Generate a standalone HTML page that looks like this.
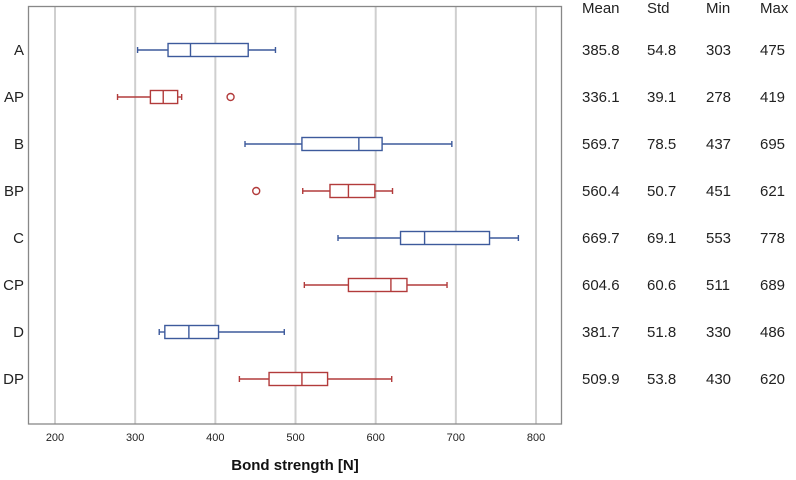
<!DOCTYPE html>
<html><head><meta charset="utf-8"><style>
body{margin:0;background:#fff;width:796px;height:475px;overflow:hidden;font-family:"Liberation Sans",sans-serif}
</style></head><body>
<svg id="chart" width="796" height="475" xmlns="http://www.w3.org/2000/svg"></svg>
<script>
const categories=["A","AP","B","BP","C","CP","D","DP"];
const whiskerLow=[303,278,437,509,553,511,330,430];
const q1=[341,319,508,543,631,566,337,467];
const median=[369,335,579,566,661,619,367,508];
const q3=[441,353,608,599,742,639,404,540];
const whiskerHigh=[475,358,695,621,778,689,486,620];
const outliers=[[],[419],[],[451],[],[],[],[]];
const means=["385.8","336.1","569.7","560.4","669.7","604.6","381.7","509.9"];
const stds=["54.8","39.1","78.5","50.7","69.1","60.6","51.8","53.8"];
const mins=["303","278","437","451","553","511","330","430"];
const maxs=["475","419","695","621","778","689","486","620"];
const xTicks=[200,300,400,500,600,700,800];
const headers=["Mean","Std","Min","Max"];

const svg=document.getElementById('chart');
const NS='http://www.w3.org/2000/svg';
const x=v=>55+(v-200)*0.8017;
const y=i=>50+i*47;
function mk(tag,attrs,parent){const e=document.createElementNS(NS,tag);for(const k in attrs)e.setAttribute(k,attrs[k]);(parent||svg).appendChild(e);return e;}
xTicks.forEach(t=>{
  const g=mk('line',{x1:x(t),x2:x(t),y1:6,y2:424,stroke:'#cfcfcf','stroke-width':2});
  
  
  const tl=mk('text',{x:x(t),y:441,'text-anchor':'middle','font-size':11,fill:'#222'});
  tl.textContent=t;
  
  
});
const frame=mk('rect',{x:28.5,y:6.5,width:533,height:417.5,fill:'none',stroke:'#888','stroke-width':1.3});


const title=mk('text',{x:295,y:470,'text-anchor':'middle','font-size':15,'font-weight':'bold',fill:'#111'});
title.textContent='Bond strength [N]';


categories.forEach((c,i)=>{
  const col=c.endsWith('P')?'#b23b3b':'#3d5a9c';
  const cy=y(i);
  const g=mk('g',{stroke:col,'stroke-width':1.4,fill:'none'});
  
  
  mk('line',{x1:x(whiskerLow[i]),x2:x(q1[i]),y1:cy,y2:cy},g);
  mk('line',{x1:x(q3[i]),x2:x(whiskerHigh[i]),y1:cy,y2:cy},g);
  mk('line',{x1:x(whiskerLow[i]),x2:x(whiskerLow[i]),y1:cy-3,y2:cy+3},g);
  mk('line',{x1:x(whiskerHigh[i]),x2:x(whiskerHigh[i]),y1:cy-3,y2:cy+3},g);
  mk('rect',{x:x(q1[i]),y:cy-6.5,width:x(q3[i])-x(q1[i]),height:13,fill:'#fff'},g);
  mk('line',{x1:x(median[i]),x2:x(median[i]),y1:cy-6.5,y2:cy+6.5},g);
  outliers[i].forEach(o=>{
    const oc=mk('circle',{cx:x(o),cy:cy,r:3.5},g);
    
    
  });
  const lab=mk('text',{x:24,y:cy+5,'text-anchor':'end','font-size':15,fill:'#222'});
  lab.textContent=c;
  
  
  [means,stds,mins,maxs].forEach((arr,j)=>{
    const t=mk('text',{x:[582,647,706,760][j],y:cy+5,'font-size':15,fill:'#222'});
    t.textContent=arr[i];
    
    
  });
});
headers.forEach((h,j)=>{
  const t=mk('text',{x:[582,647,706,760][j],y:13,'font-size':15,fill:'#222'});
  t.textContent=h;
  
  
});
</script>
</body></html>
